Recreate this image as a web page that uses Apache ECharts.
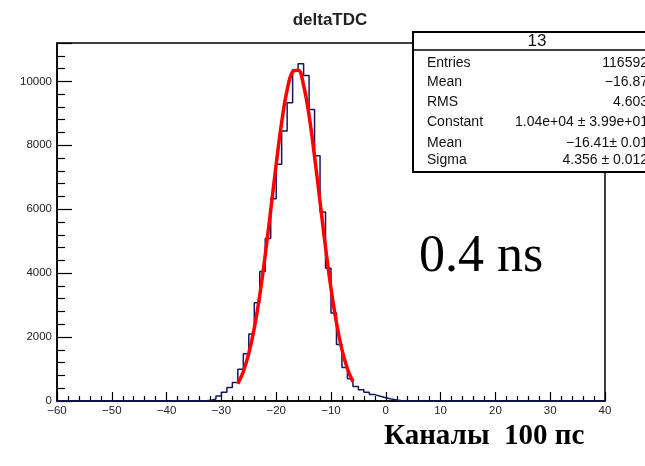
<!DOCTYPE html>
<html>
<head>
<meta charset="utf-8">
<script src="https://cdn.jsdelivr.net/npm/echarts@6/dist/echarts.min.js"></script>
<style>
html,body{margin:0;padding:0;background:#fff;}
#chart{width:645px;height:466px;}
</style>
</head>
<body>
<div id="chart"></div>
<script>
// ---- data ----
const chartTitle = 'deltaTDC';
const xTicks = [-60, -50, -40, -30, -20, -10, 0, 10, 20, 30, 40];
const yTicks = [0, 2000, 4000, 6000, 8000, 10000];
// histogram: lower bin edges (bin width 1 channel) and counts
const binLow = [-33, -32, -31, -30, -29, -28, -27, -26, -25, -24, -23, -22, -21, -20, -19, -18, -17, -16, -15, -14, -13, -12, -11, -10, -9, -8, -7, -6, -5, -4, -3, -2, -1, 0, 1, 2];
const counts = [20, 60, 160, 270, 420, 580, 990, 1480, 2100, 3070, 4050, 5080, 6330, 7410, 8450, 9330, 10360, 10550, 10180, 9120, 7670, 5910, 4150, 2750, 1770, 1050, 700, 450, 350, 270, 200, 150, 100, 60, 30, 10];
// red fit curve, read at points
const fitX = [-27, -26, -25, -24, -23, -22, -21, -20, -19, -18, -17, -16, -15, -14, -13, -12, -11, -10, -9, -8, -7, -6];
const fitY = [540, 920, 1490, 2280, 3310, 4570, 5970, 7410, 8720, 9730, 10300, 10350, 9870, 8930, 7650, 6230, 4810, 3520, 2450, 1610, 1010, 600];
// stats box
const statsTitle = '13';
const statsNames = ['Entries', 'Mean', 'RMS', 'Constant', 'Mean', 'Sigma'];
const statsValues = ['116592', '\u221216.87', '4.603', '1.04e+04 \u00b1 3.99e+01', '\u221216.41\u00b1 0.01', '4.356 \u00b1 0.012'];
const noteText = '0.4 ns';
const xAxisText = '\u041a\u0430\u043d\u0430\u043b\u044b  100 \u043f\u0441';

// ---- build ----
const histData = [[xTicks[0], 0]];
for (let i = 0; i < binLow.length; i++) histData.push([binLow[i], counts[i]]);
histData.push([binLow[binLow.length - 1] + 1, 0]);
histData.push([xTicks[xTicks.length - 1], 0]);
const fitData = fitX.map((x, i) => [x, fitY[i]]);

const rowY = [63, 82, 102, 122, 143, 160];
const statsGraphics = [];
statsGraphics.push({type: 'rect', shape: {x: 413, y: 32, width: 250, height: 140}, style: {fill: '#fff', stroke: '#000', lineWidth: 2}, z: 10});
statsGraphics.push({type: 'line', shape: {x1: 413, y1: 50, x2: 663, y2: 50}, style: {stroke: '#000', lineWidth: 1.5}, z: 11});
statsGraphics.push({type: 'text', x: 537, y: 41, style: {text: statsTitle, fontSize: 17, fontFamily: 'Liberation Sans', fill: '#111', align: 'center', verticalAlign: 'middle'}, z: 11});
statsNames.forEach((n, i) => {
  statsGraphics.push({type: 'text', x: 427, y: rowY[i], style: {text: n, fontSize: 14, fontFamily: 'Liberation Sans', fill: '#111', align: 'left', verticalAlign: 'middle'}, z: 11});
  statsGraphics.push({type: 'text', x: 648, y: rowY[i], style: {text: statsValues[i], fontSize: 14, fontFamily: 'Liberation Sans', fill: '#111', align: 'right', verticalAlign: 'middle'}, z: 11});
});

const chart = echarts.init(document.getElementById('chart'), null, {renderer: 'canvas'});
chart.setOption({
  animation: false,
  backgroundColor: '#fff',
  grid: {left: 57, right: 40, top: 43, bottom: 65, show: true, borderColor: '#000', borderWidth: 1.5, backgroundColor: 'transparent'},
  xAxis: {
    type: 'value', min: xTicks[0], max: xTicks[xTicks.length - 1], interval: 10,
    axisLine: {onZero: false, lineStyle: {color: '#000', width: 1.5}},
    axisTick: {inside: true, length: 9, lineStyle: {color: '#000', width: 1.2}},
    minorTick: {show: true, splitNumber: 5, length: 5, lineStyle: {color: '#000', width: 1.2}},
    splitLine: {show: false},
    axisLabel: {margin: 4, fontSize: 11.5, color: '#222', fontFamily: 'Liberation Sans',
      formatter: v => (v < 0 ? '\u2212' + Math.abs(v) : String(v))}
  },
  yAxis: {
    type: 'value', min: 0, max: 11200, interval: 2000,
    axisLine: {onZero: false, lineStyle: {color: '#000', width: 1.5}},
    axisTick: {inside: true, length: 15, lineStyle: {color: '#000', width: 1.2}},
    minorTick: {show: true, splitNumber: 5, length: 8, lineStyle: {color: '#000', width: 1.2}},
    splitLine: {show: false},
    axisLabel: {margin: 5, fontSize: 11.5, color: '#222', fontFamily: 'Liberation Sans',
      formatter: v => (yTicks.indexOf(v) >= 0 ? String(v) : '')}
  },
  series: [
    {type: 'line', step: 'end', data: histData, showSymbol: false, symbol: 'none',
      lineStyle: {color: '#16165e', width: 1.5}, z: 2},
    {type: 'line', smooth: 0.4, data: fitData, showSymbol: false, symbol: 'none',
      lineStyle: {color: '#ff0000', width: 3.5}, z: 3}
  ],
  graphic: [
    {type: 'text', x: 330, y: 20, style: {text: chartTitle, fontSize: 17, fontWeight: 'bold', fontFamily: 'Liberation Sans', fill: '#222', align: 'center', verticalAlign: 'middle'}, z: 11},
    ...statsGraphics,
    {type: 'text', x: 419, y: 257, style: {text: noteText, fontSize: 52, fontFamily: 'Liberation Serif', fill: '#000', align: 'left', verticalAlign: 'middle'}, z: 11},
    {type: 'text', x: 384, y: 437, style: {text: xAxisText, fontSize: 29, fontWeight: 'bold', fontFamily: 'Liberation Serif', fill: '#000', align: 'left', verticalAlign: 'middle'}, z: 11}
  ]
});
</script>
</body>
</html>
